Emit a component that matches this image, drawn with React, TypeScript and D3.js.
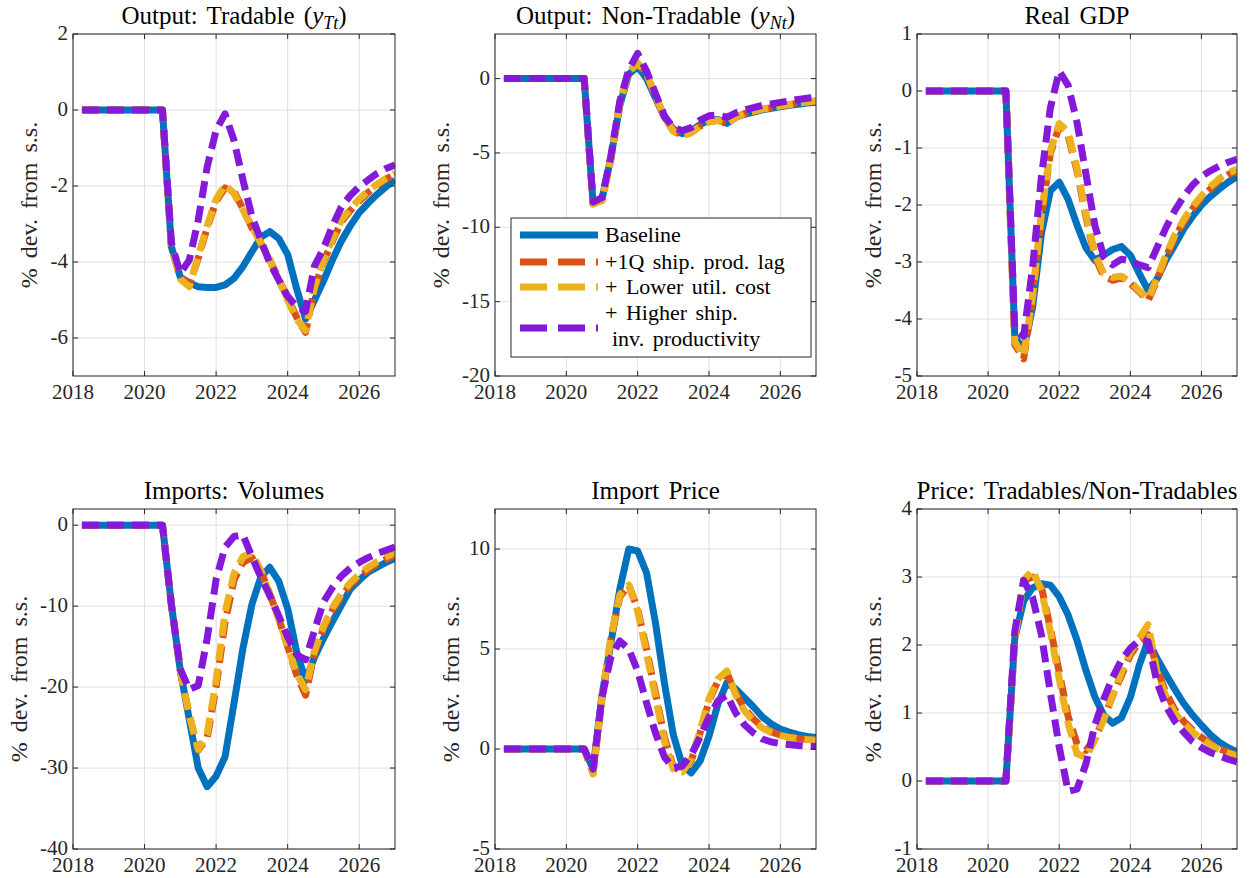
import React from 'react';
import { scaleLinear, line } from 'd3';

// quarterly dates
const quarters = [
  2018.25, 2018.5, 2018.75, 2019, 2019.25, 2019.5, 2019.75, 2020, 2020.25, 2020.5,
  2020.75, 2021, 2021.25, 2021.5, 2021.75, 2022, 2022.25, 2022.5, 2022.75, 2023,
  2023.25, 2023.5, 2023.75, 2024, 2024.25, 2024.5, 2024.75, 2025, 2025.25, 2025.5,
  2025.75, 2026, 2026.25, 2026.5, 2026.75, 2027,
];

const seriesNames = [
  'Baseline',
  '+1Q ship. prod. lag',
  '+ Lower util. cost',
  '+ Higher ship.|inv. productivity',
];

const xTicks = [2018, 2020, 2022, 2024, 2026];

// Output: Tradable
const tradBaseline = [0, 0, 0, 0, 0, 0, 0, 0, 0, 0,
  -3.6, -4.4, -4.55, -4.65, -4.67, -4.67, -4.6, -4.43, -4.12, -3.73, -3.35, -3.2, -3.38,
  -3.8, -4.7, -5.5, -5.0, -4.5, -3.95, -3.45, -3.05, -2.7, -2.45, -2.22, -2.02, -1.84];
const tradShipLag = [0, 0, 0, 0, 0, 0, 0, 0, 0, 0,
  -3.6, -4.4, -4.6, -3.9, -3.1, -2.4, -2.05, -2.15, -2.6, -3.1, -3.5, -3.95, -4.45,
  -4.95, -5.45, -5.85, -4.7, -4.0, -3.45, -2.95, -2.65, -2.4, -2.17, -1.98, -1.82, -1.68];
const tradUtil = [0, 0, 0, 0, 0, 0, 0, 0, 0, 0,
  -3.6, -4.45, -4.65, -3.85, -3.05, -2.35, -1.97, -2.2, -2.63, -3.07, -3.5, -3.95, -4.47,
  -5.0, -5.5, -5.8, -4.65, -3.95, -3.4, -2.9, -2.6, -2.35, -2.13, -1.95, -1.8, -1.67];
const tradProd = [0, 0, 0, 0, 0, 0, 0, 0, 0, 0,
  -3.5, -4.3, -3.95, -2.9, -1.5, -0.53, -0.1, -0.8, -1.84, -2.8, -3.42, -4.03, -4.47,
  -4.9, -5.18, -5.3, -4.1, -3.65, -3.05, -2.55, -2.25, -2.02, -1.84, -1.67, -1.54, -1.45];

// Output: Non-Tradable
const nonTradBaseline = [0, 0, 0, 0, 0, 0, 0, 0, 0, 0,
  -8.4, -8.1, -5.3, -1.8, 0.3, 0.8, 0.0, -1.3, -2.6, -3.4, -3.7, -3.5, -3.1,
  -2.8, -2.75, -3.0, -2.6, -2.4, -2.25, -2.1, -2.0, -1.9, -1.8, -1.72, -1.65, -1.58];
const nonTradShipLag = [0, 0, 0, 0, 0, 0, 0, 0, 0, 0,
  -8.4, -8.2, -5.4, -1.7, 0.4, 1.0, 0.3, -1.2, -2.6, -3.5, -3.8, -3.6, -3.2,
  -2.9, -2.8, -3.0, -2.6, -2.35, -2.2, -2.05, -1.95, -1.85, -1.75, -1.65, -1.58, -1.5];
const nonTradUtil = [0, 0, 0, 0, 0, 0, 0, 0, 0, 0,
  -8.45, -8.2, -5.4, -1.6, 0.45, 1.05, 0.35, -1.15, -2.6, -3.55, -3.85, -3.65, -3.2,
  -2.9, -2.8, -3.05, -2.6, -2.35, -2.2, -2.05, -1.95, -1.85, -1.75, -1.65, -1.57, -1.5];
const nonTradProd = [0, 0, 0, 0, 0, 0, 0, 0, 0, 0,
  -8.3, -8.0, -5.2, -1.5, 0.6, 1.7, 0.5, -1.0, -2.5, -3.3, -3.5, -3.3, -2.8,
  -2.5, -2.45, -2.6, -2.3, -2.1, -1.95, -1.8, -1.7, -1.6, -1.5, -1.4, -1.32, -1.25];

// Real GDP
const gdpBaseline = [0, 0, 0, 0, 0, 0, 0, 0, 0, 0,
  -4.3, -4.55, -3.8, -2.5, -1.75, -1.6, -1.9, -2.35, -2.75, -2.97, -2.88, -2.78, -2.73,
  -2.88, -3.2, -3.5, -3.3, -2.97, -2.7, -2.42, -2.2, -2.0, -1.85, -1.72, -1.6, -1.5];
const gdpShipLag = [0, 0, 0, 0, 0, 0, 0, 0, 0, 0,
  -4.45, -4.7, -3.65, -2.2, -1.1, -0.62, -0.78, -1.4, -2.2, -2.9, -3.25, -3.32, -3.28,
  -3.38, -3.52, -3.68, -3.32, -2.92, -2.57, -2.3, -2.07, -1.87, -1.72, -1.57, -1.47, -1.4];
const gdpUtil = [0, 0, 0, 0, 0, 0, 0, 0, 0, 0,
  -4.4, -4.65, -3.6, -2.15, -1.05, -0.57, -0.72, -1.35, -2.15, -2.85, -3.2, -3.27, -3.25,
  -3.35, -3.5, -3.65, -3.28, -2.88, -2.53, -2.26, -2.03, -1.84, -1.68, -1.54, -1.44, -1.37];
const gdpProd = [0, 0, 0, 0, 0, 0, 0, 0, 0, 0,
  -4.2, -4.3, -3.1, -1.5, -0.3, 0.35, 0.1, -0.55, -1.45, -2.35, -2.9, -3.05, -2.95,
  -2.98, -3.05, -3.1, -2.75, -2.4, -2.1, -1.85, -1.65, -1.5, -1.4, -1.32, -1.25, -1.2];

// Imports: Volumes
const impBaseline = [0, 0, 0, 0, 0, 0, 0, 0, 0, 0,
  -9.8, -18, -24, -30, -32.3, -31, -28.6, -22, -15.2, -9.8, -6.4, -5.2, -6.9,
  -10.3, -15.6, -19.2, -16.3, -14, -11.9, -9.9, -7.9, -6.8, -5.8, -5.2, -4.6, -4.1];
const impShipLag = [0, 0, 0, 0, 0, 0, 0, 0, 0, 0,
  -9.8, -18, -23.5, -27.8, -26.3, -20, -12, -6.8, -4.6, -4.0, -5.6, -8.5, -11.5,
  -15, -18.5, -21, -15.8, -12.8, -10.5, -8.8, -7.4, -6.4, -5.5, -4.8, -4.2, -3.7];
const impUtil = [0, 0, 0, 0, 0, 0, 0, 0, 0, 0,
  -9.8, -18, -23.5, -27.7, -25.8, -19.2, -10.8, -6.0, -3.9, -3.4, -5.6, -8.5, -11.5,
  -15, -18.3, -20.3, -15.5, -12.5, -10.2, -8.5, -7.1, -6.1, -5.2, -4.5, -3.9, -3.4];
const impProd = [0, 0, 0, 0, 0, 0, 0, 0, 0, 0,
  -9.8, -17.8, -20.3, -19.8, -14, -6.7, -2.7, -1.4, -1.2, -3.9, -6.4, -8.7, -11.2,
  -13.8, -16.0, -16.6, -13, -9.5, -7.7, -6.3, -5.3, -4.6, -4.0, -3.5, -3.1, -2.7];

// Import Price
const priceBaseline = [0, 0, 0, 0, 0, 0, 0, 0, 0, 0,
  -1.0, 2.7, 5.3, 8.0, 10.0, 9.9, 8.8, 6.3, 3.3, 0.7, -0.8, -1.2, -0.6,
  0.65, 2.25, 3.3, 3.0, 2.55, 2.1, 1.6, 1.25, 1.0, 0.85, 0.72, 0.63, 0.57];
const priceShipLag = [0, 0, 0, 0, 0, 0, 0, 0, 0, 0,
  -1.2, 2.5, 5.5, 7.6, 8.2, 7.0, 5.0, 2.8, 0.6, -0.9, -1.1, -0.6, 0.8,
  2.4, 3.4, 3.8, 2.8, 2.0, 1.5, 1.1, 0.85, 0.7, 0.6, 0.53, 0.48, 0.45];
const priceUtil = [0, 0, 0, 0, 0, 0, 0, 0, 0, 0,
  -1.25, 2.6, 5.6, 7.7, 8.2, 6.9, 4.8, 2.6, 0.4, -1.0, -1.15, -0.5, 0.9,
  2.5, 3.5, 3.9, 2.7, 1.9, 1.4, 1.05, 0.82, 0.68, 0.58, 0.51, 0.47, 0.44];
const priceProd = [0, 0, 0, 0, 0, 0, 0, 0, 0, 0,
  -1.0, 2.6, 4.6, 5.4, 5.0, 3.9, 2.3, 0.8, -0.4, -0.95, -0.85, -0.3, 0.6,
  1.6, 2.4, 2.7, 1.8, 1.2, 0.8, 0.5, 0.35, 0.27, 0.22, 0.18, 0.15, 0.12];

// Price: Tradables/Non-Tradables
const relBaseline = [0, 0, 0, 0, 0, 0, 0, 0, 0, 0,
  2.1, 2.65, 2.84, 2.9, 2.88, 2.71, 2.44, 2.07, 1.63, 1.24, 0.97, 0.85, 0.93,
  1.23, 1.7, 2.07, 1.8, 1.57, 1.35, 1.14, 0.97, 0.82, 0.68, 0.57, 0.49, 0.43];
const relShipLag = [0, 0, 0, 0, 0, 0, 0, 0, 0, 0,
  2.1, 2.95, 3.0, 2.85, 2.25, 1.6, 0.95, 0.55, 0.45, 0.62, 0.92, 1.25, 1.55,
  1.85, 2.05, 2.15, 1.65, 1.3, 1.05, 0.88, 0.75, 0.64, 0.55, 0.48, 0.42, 0.38];
const relUtil = [0, 0, 0, 0, 0, 0, 0, 0, 0, 0,
  2.1, 2.95, 3.1, 2.8, 2.2, 1.5, 0.85, 0.4, 0.35, 0.6, 0.9, 1.25, 1.6,
  1.9, 2.1, 2.3, 1.6, 1.25, 1.0, 0.85, 0.72, 0.62, 0.53, 0.46, 0.41, 0.37];
const relProd = [0, 0, 0, 0, 0, 0, 0, 0, 0, 0,
  2.2, 2.95, 2.7, 2.15, 1.3, 0.5, -0.15, -0.12, 0.25, 0.82, 1.2, 1.52, 1.78,
  1.95, 2.07, 2.05, 1.45, 1.1, 0.88, 0.72, 0.58, 0.49, 0.42, 0.37, 0.32, 0.28];

const yTicksTrad = [2, 0, -2, -4, -6];
const yTicksNonTrad = [0, -5, -10, -15, -20];
const yTicksGdp = [1, 0, -1, -2, -3, -4, -5];
const yTicksImp = [0, -10, -20, -30, -40];
const yTicksPrice = [10, 5, 0, -5];
const yTicksRel = [4, 3, 2, 1, 0, -1];

const panels = [
  { title: ['Output: Tradable (', 'y', 'Tt', ')'], yDomain: [-7, 2], yTicks: yTicksTrad,
    series: [tradBaseline, tradShipLag, tradUtil, tradProd] },
  { title: ['Output: Non-Tradable (', 'y', 'Nt', ')'], yDomain: [-20, 3], yTicks: yTicksNonTrad,
    series: [nonTradBaseline, nonTradShipLag, nonTradUtil, nonTradProd], legend: true },
  { title: ['Real GDP'], yDomain: [-5, 1], yTicks: yTicksGdp,
    series: [gdpBaseline, gdpShipLag, gdpUtil, gdpProd] },
  { title: ['Imports: Volumes'], yDomain: [-40, 2], yTicks: yTicksImp,
    series: [impBaseline, impShipLag, impUtil, impProd] },
  { title: ['Import Price'], yDomain: [-5, 12], yTicks: yTicksPrice,
    series: [priceBaseline, priceShipLag, priceUtil, priceProd] },
  { title: ['Price: Tradables/Non-Tradables'], yDomain: [-1, 4], yTicks: yTicksRel,
    series: [relBaseline, relShipLag, relUtil, relProd] },
];

const colLeft = [73, 495, 917];
const colRight = [395, 816, 1237];
const rowTop = [34, 509];
const rowBottom = [376, 849];

const styles = [
  { color: '#0072BD', dash: undefined },
  { color: '#D95319', dash: '17 8' },
  { color: '#EDB120', dash: '17 8' },
  { color: '#8419D9', dash: '17 8' },
];

const font = '"Liberation Serif", "Times New Roman", serif';
const ink = '#262626';
const LW = 7;

const Panel = ({ p, i }: { p: any; i: number }) => {
  const left = colLeft[i % 3];
  const right = colRight[i % 3];
  const top = rowTop[Math.floor(i / 3)];
  const bottom = rowBottom[Math.floor(i / 3)];
  const x = scaleLinear().domain([2018, 2027]).range([left, right]);
  const y = scaleLinear().domain(p.yDomain).range([bottom, top]);
  const path = line<number>()
    .x((d, k) => x(quarters[k]))
    .y((d) => y(d));
  const clipId = `clip${i}`;
  const maxLen = Math.max(...p.yTicks.map((t: number) => String(t).length));
  const labelX = left - (23 + 10.5 * maxLen);
  const tk = 5;

  return (
    <g>
      <defs>
        <clipPath id={clipId}>
          <rect x={left} y={top} width={right - left} height={bottom - top} />
        </clipPath>
      </defs>
      <rect x={left} y={top} width={right - left} height={bottom - top} fill="#fff" />
      {/* grid */}
      {xTicks.map((t) => (
        <line key={'gx' + t} x1={x(t)} x2={x(t)} y1={top} y2={bottom} stroke="#dfdfdf" strokeWidth={1} />
      ))}
      {p.yTicks.map((t: number) => (
        <line key={'gy' + t} x1={left} x2={right} y1={y(t)} y2={y(t)} stroke="#dfdfdf" strokeWidth={1} />
      ))}
      {/* data */}
      <g clipPath={`url(#${clipId})`}>
        {p.series.map((s: number[], k: number) => (
          <path
            key={k}
            d={path(s) || ''}
            fill="none"
            stroke={styles[k].color}
            strokeWidth={LW}
            strokeDasharray={styles[k].dash}
            strokeLinejoin="round"
            strokeLinecap="butt"
          />
        ))}
      </g>
      {/* box and ticks */}
      <rect x={left} y={top} width={right - left} height={bottom - top} fill="none" stroke={ink} strokeWidth={1} />
      {xTicks.map((t) => (
        <g key={'tx' + t}>
          <line x1={x(t)} x2={x(t)} y1={bottom} y2={bottom - tk} stroke={ink} />
          <line x1={x(t)} x2={x(t)} y1={top} y2={top + tk} stroke={ink} />
          <text x={x(t)} y={bottom + 23} textAnchor="middle" fontFamily={font} fontSize={21} fill={ink}>
            {t}
          </text>
        </g>
      ))}
      {p.yTicks.map((t: number) => (
        <g key={'ty' + t}>
          <line x1={left} x2={left + tk} y1={y(t)} y2={y(t)} stroke={ink} />
          <line x1={right} x2={right - tk} y1={y(t)} y2={y(t)} stroke={ink} />
          <text x={left - 5} y={y(t) + 6} textAnchor="end" fontFamily={font} fontSize={21} fill={ink}>
            {String(t)}
          </text>
        </g>
      ))}
      {/* title */}
      <text x={(left + right) / 2} y={top - 10} textAnchor="middle" fontFamily={font} fontSize={25} fill="#000" wordSpacing={3}>
        {p.title[0]}
        {p.title.length > 1 && (
          <>
            <tspan fontStyle="italic">{p.title[1]}</tspan>
            <tspan fontStyle="italic" fontSize={18} dy={5}>{p.title[2]}</tspan>
            <tspan dy={-5}>{p.title[3]}</tspan>
          </>
        )}
      </text>
      <text
        transform={`translate(${labelX},${(top + bottom) / 2}) rotate(-90)`}
        textAnchor="middle"
        dominantBaseline="central"
        fontFamily={font}
        fontSize={24}
        wordSpacing={4}
        fill={ink}
      >
        % dev. from s.s.
      </text>
      {p.legend && <Legend />}
    </g>
  );
};

const Legend = () => {
  const rows = [235, 262, 287, 328];
  return (
    <g>
      <rect x={511} y={218} width={300} height={139} fill="#fff" stroke={ink} strokeWidth={1} />
      {seriesNames.map((name, k) => {
        const parts = name.split('|');
        return (
          <g key={k}>
            <line
              x1={520}
              x2={598}
              y1={rows[k]}
              y2={rows[k]}
              stroke={styles[k].color}
              strokeWidth={LW}
              strokeDasharray={k === 0 ? undefined : '27 11'}
            />
            {parts.length === 1 ? (
              <text x={605} y={rows[k] + 7} fontFamily={font} fontSize={22} wordSpacing={3} fill="#000">
                {name}
              </text>
            ) : (
              <>
                <text x={605} y={rows[k] - 8} fontFamily={font} fontSize={22} wordSpacing={3} fill="#000">
                  {parts[0]}
                </text>
                <text x={612} y={rows[k] + 18} fontFamily={font} fontSize={22} wordSpacing={3} fill="#000">
                  {parts[1]}
                </text>
              </>
            )}
          </g>
        );
      })}
    </g>
  );
};

export default function App() {
  return (
    <svg
      width={1251}
      height={878}
      style={{ position: 'absolute', left: 0, top: 0, background: '#fff' }}
    >
      {panels.map((p, i) => (
        <Panel key={i} p={p} i={i} />
      ))}
    </svg>
  );
}
